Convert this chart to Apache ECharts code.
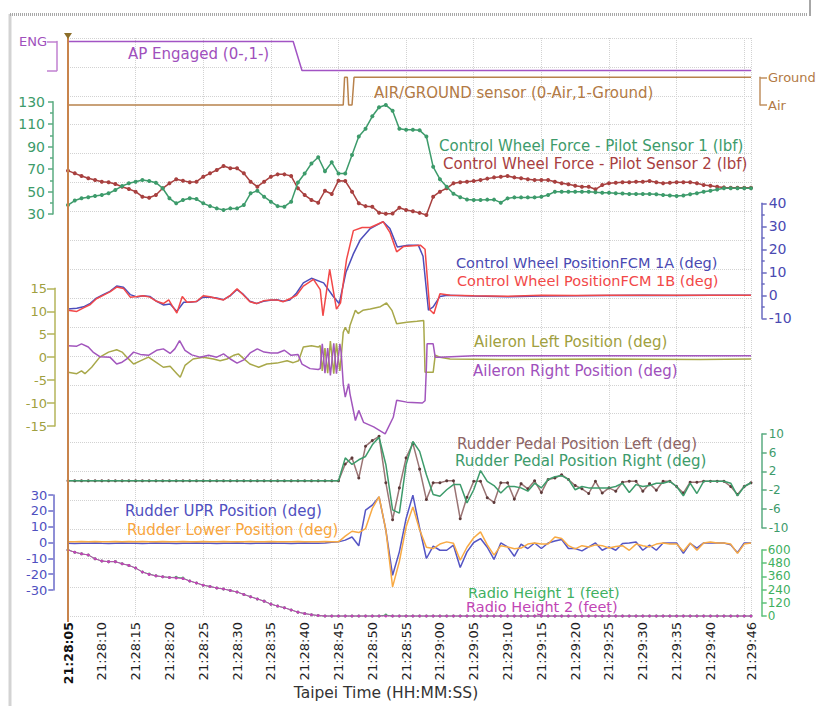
<!DOCTYPE html>
<html>
<head>
<meta charset="utf-8">
<script src="https://cdn.jsdelivr.net/npm/echarts@6/dist/echarts.min.js"></script>
<style>
  html, body { margin: 0; padding: 0; background: #fff; }
  #chart { width: 818px; height: 706px; }
</style>
</head>
<body>
<div id="chart"></div>
<script>
// ---- time axis (seconds after 21:28:05) ----
const timeTicks  = [0, 5, 10, 15, 20, 25, 30, 35, 40, 45, 50, 55, 60, 65, 70, 75, 80, 85, 90, 95, 100, 101];
const timeLabels = ['21:28:05', '21:28:10', '21:28:15', '21:28:20', '21:28:25', '21:28:30', '21:28:35',
                    '21:28:40', '21:28:45', '21:28:50', '21:28:55', '21:29:00', '21:29:05', '21:29:10',
                    '21:29:15', '21:29:20', '21:29:25', '21:29:30', '21:29:35', '21:29:40', '21:29:45', '21:29:46'];

// ---- discrete parameters ----
const apTime  = [0, 33.3, 34.6, 101];
const apValue = [1, 1, 0, 0];
const apLabels = ['', 'ENG'];

const airGroundTime  = [0, 40.7, 40.9, 41.3, 41.5, 42.0, 42.3, 101];
const airGroundValue = [0, 0, 1, 1, 0, 0, 1, 1];
const airGroundLabels = ['Air', 'Ground'];

// ---- control wheel force, 1 sample per second (lbf) ----
const forceTicks = [30, 50, 70, 90, 110, 130];
const forceMinorTicks = [40, 60, 80, 100, 120];
const forceSensor1 = [
  38, 42, 44, 45, 46, 46.9, 48.4, 51.4, 54.9, 57.3,
  58.8, 60.3, 59.4, 57.9, 52.9, 44, 39.5, 42.5, 44, 43.3,
  39.5, 37, 35, 33.6, 35, 35, 38, 48.4, 50.7, 45.4,
  41, 37, 36.5, 41, 58, 66, 75, 80.5, 68, 76,
  66, 66, 82.5, 99, 106, 117, 125, 127, 122, 106,
  105, 105, 104.5, 99, 72, 61, 54.3, 48, 45, 43,
  42.5, 42.5, 42.8, 42.8, 40.1, 43.9, 44.8, 44.8, 44.8, 44.8,
  45.4, 46.9, 49.9, 49.9, 49.9, 49.9, 49.9, 49.9, 49.3, 49,
  49, 48.5, 48.2, 47.8, 47.8, 47.8, 47.8, 47.5, 46.9, 46.5,
  46, 46.5, 47.5, 48.4, 49.9, 50.7, 51.9, 52.9, 52.9, 52.9,
  52.9, 52.9
];
const forceSensor2 = [
  68.6, 66.2, 63.8, 61.8, 60.3, 58.8, 58.2, 56.7, 54.3, 52.3,
  49.9, 45.4, 44.5, 46.9, 52.9, 57.3, 60.9, 59.7, 58.2, 58.8,
  63.2, 66.2, 69.2, 72.7, 70.7, 70.7, 66.2, 58.8, 54.3, 58.8,
  63.2, 65.3, 65.3, 63.8, 52.9, 46.9, 42.5, 40.1, 50.7, 47.8,
  59.7, 59.4, 49.9, 39.5, 37, 36.5, 31.2, 30.3, 30.5, 35.6,
  33.5, 32.5, 31, 29.1, 45.4, 49.9, 52.9, 57.3, 58.2, 58.8,
  59.4, 60.3, 61.5, 62.6, 63.2, 63.8, 62.6, 61.8, 60.9, 60.3,
  60.3, 60.3, 58.8, 57.3, 56.4, 55.2, 54.3, 54.3, 52, 55.8,
  57.3, 57.9, 58.2, 58.2, 58.8, 58.8, 59.4, 58.2, 57.3, 57.9,
  58.2, 58.2, 58.2, 57.3, 55.8, 55.2, 54.3, 53.7, 53.4, 53.4,
  53.4, 53.4
];

// ---- control wheel position (deg) ----
const wheelTicks = [-10, 0, 10, 20, 30, 40];
const wheelMinorTicks = [-5, 5, 15, 25, 35];
const wheelTimeA = [0, 1.3, 2.3, 3.3, 4.2, 5.2, 6.2, 7.2, 8.2, 9.2, 10.2, 11.1, 12.1, 13.1, 14.1, 15.1, 16.1,
  17.1, 18.0, 19.0, 20.0, 21.0, 22.0, 23.0, 24.0, 25.0, 25.9, 26.9, 27.9, 28.9, 29.9, 30.9, 31.8, 32.8,
  33.8, 34.8, 36.0, 37.8, 39.2, 40.1, 41.1, 42.2, 43.2, 44.7, 46.6, 47.6, 48.7, 50.3, 51.8, 52.5, 53.3,
  54.0, 55.0, 56.1, 60, 65, 70, 75, 80, 85, 90, 95, 101];
const wheelFcm1A = [-6.0, -5.6, -5.0, -3.5, -1.2, 0.3, 1.7, 4.0, 3.5, 0.3, -0.7, -0.2, -0.5, -2.6, -4.2, -3.8, -7.0,
  -3.0, -3.0, -2.7, -0.7, -0.9, -1.2, -1.9, -0.2, 2.5, 0.5, -2.6, -3.6, -2.6, -2.2, -1.9, -2.6, -2.0,
  1.0, 5.4, 7.4, 5.4, -0.4, -3.6, 10, 18, 24, 29, 32, 29, 21, 21.8, 21.8, 17, -6.5,
  -5, -0.5, 0, -0.3, -0.6, -0.3, -0.2, -0.1, 0, -0.1, 0, 0];
const wheelTimeB = [0, 1.3, 2.3, 3.3, 4.2, 5.2, 6.2, 7.2, 8.2, 9.2, 10.2, 11.1, 12.1, 13.1, 14.1, 14.9, 15.4,
  16.1, 16.9, 17.6, 19.0, 20.0, 21.0, 22.0, 23.0, 24.0, 25.0, 25.9, 26.9, 27.9, 28.9, 29.9, 30.9, 31.8,
  32.8, 33.8, 34.8, 36.3, 37.3, 37.7, 38.7, 39.7, 40.3, 41.2, 42.2, 43.5, 44.7, 46.6, 47.6, 48.6, 49.6,
  52.1, 52.8, 53.5, 54.1, 55.0, 56.5, 60, 65, 70, 75, 80, 85, 90, 95, 101];
const wheelFcm1B = [-6.5, -7.0, -5.5, -4.0, -1.5, 0, 1.5, 3.6, 3.0, -0.8, -0.5, -0.2, -0.8, -2.6, -3.6, -2.0, -4.5,
  -7.7, -0.5, -3.0, -2.7, -0.2, -0.6, -1.4, -2.0, 0, 2.8, 0.2, -2.8, -3.6, -2.4, -2.0, -2.0, -2.8,
  -1.5, 0, 4.0, 6.9, 2.5, -8.9, 11.3, -6.0, -3.3, 15.7, 28.1, 29.5, 29.5, 32, 27.4, 18.9, 21.2,
  21.8, 20, -6.3, -8, 0.7, 0, -0.2, -0.4, 0, -0.1, 0, 0, 0, 0, 0];

// ---- aileron position (deg) ----
const aileronTicks = [-15, -10, -5, 0, 5, 10, 15];
const aileronLeftTime = [0, 1.3, 2.0, 2.5, 3.5, 4.7, 6.0, 7.2, 8.0, 8.7, 9.7, 10.7, 11.9, 13.1, 14.1, 15.1,
  16.1, 16.6, 17.3, 18.5, 20.0, 21.5, 22.5, 23.5, 24.5, 25.2, 25.9, 26.9, 28.2, 29.4, 30.9, 32.4, 33.3,
  34.1, 34.8, 36.0, 37.0, 37.3, 37.6, 38.0, 38.4, 38.8, 39.3, 39.7, 40.2, 40.4, 40.7, 41.0, 41.5, 41.7,
  42.5, 42.9, 43.6, 44.7, 46.2, 47.1, 47.9, 48.6, 50.1, 51.6, 52.6, 52.8, 54.0, 54.3, 55.0, 56.5,
  63.9, 78.7, 93.5, 101];
const aileronLeft = [-3.3, -3.6, -3.0, -3.6, -2.2, 0, 1.1, 1.6, 1.1, 0, -1.5, -0.8, 0, -1.2, -2.2, -2.0,
  -3.6, -4.4, -1.8, -0.4, 0, -0.4, -0.8, -0.4, 0.4, 0.7, -0.2, -1.5, -2.2, -1.5, -1.3, -0.8, -1.2,
  -0.8, 2.2, 2.5, 2.2, 2.5, -3.0, 2.0, -3.5, 3.5, -3.6, 3.0, -3.0, 0, 5.4, 6.5, 5.1, 6.9,
  10.2, 9.5, 10.2, 10.5, 11.0, 11.8, 10.2, 7.3, 7.6, 7.8, 8.0, -3.3, -3.3, 0.4, 0, -0.4,
  -0.5, -0.4, -0.5, -0.4];
const aileronRightTime = [0, 1.3, 2.0, 3.0, 3.7, 4.7, 6.2, 7.2, 8.0, 8.7, 9.7, 10.7, 11.9, 13.1, 14.1, 15.1,
  15.8, 16.5, 17.3, 18.3, 19.5, 20.8, 22.0, 23.0, 24.0, 25.0, 26.0, 27.0, 28.0, 29.0, 30.0, 31.0, 32.0,
  33.0, 34.0, 34.6, 35.8, 37.0, 37.3, 37.6, 38.0, 38.4, 38.8, 39.3, 39.7, 40.2, 40.4, 40.7, 41.0, 41.5,
  41.7, 42.5, 43.0, 43.7, 45.2, 46.9, 48.1, 48.6, 50.1, 52.4, 52.8, 53.0, 53.1, 54.0, 54.3, 55,
  60, 70, 80, 90, 101];
const aileronRight = [2.5, 2.4, 2.9, 2.2, 1.1, 0.1, 0, -1.5, -1.1, -0.4, 1.1, 0.6, 0.4, 1.5, 1.8, 0.8,
  1.8, 3.6, 1.5, 0.5, 0, 0.4, 0, 0.7, -0.4, -1.3, -0.6, 1.0, 1.8, 1.1, 0.9, 0.9, 1.5,
  0.4, 0.6, -1.5, -2.5, -2.7, -2.5, 2.9, -3.5, 2.0, -4.0, 3.0, -3.6, 2.9, 1, -5.8, -8.7, -5.8,
  -8.0, -13.8, -11.6, -14.2, -15.2, -16.7, -13.1, -9.4, -9.8, -10.0, -9.5, -2.2, 2.9, 2.9, 0, 0,
  0.3, 0.3, 0.3, 0.3, 0.3];

// ---- rudder pedal position, 1 sample per second (deg) ----
const pedalTicks = [-10, -6, -2, 2, 6, 10];
const pedalLeft = [
  0, 0, 0, 0, 0, 0, 0, 0, 0, 0,
  0, 0, 0, 0, 0, 0, 0, 0, 0, 0,
  0, 0, 0, 0, 0, 0, 0, 0, 0, 0,
  0, 0, 0, 0, 0, 0, 0, 0, 0, 0,
  0, 3.6, 4.9, 0.6, 7.4, 8.6, 9.5, -0.4, -8.3, -1.5,
  4.9, 8.0, 2.5, -4.0, -0.4, -0.4, 0, 0, -8.1, -3.5,
  -0.1, -0.1, -3.6, -4.6, -0.4, -0.4, -3.9, -0.6, -1.7, 0,
  -2.5, 0.3, 0.6, 1.3, 0.3, -1.0, -1.7, -2.7, -0.1, -2.6,
  -1.5, -2.2, -0.3, -0.1, -0.1, -2.2, -0.6, -2.0, -0.1, -0.1,
  -1.2, -2.6, -0.3, -0.3, -0.1, -0.1, -0.1, -0.1, -1.2, -2.9,
  -1.2, -0.4
];
const pedalRight = [
  0, 0, 0, 0, 0, 0, 0, 0, 0, 0,
  0, 0, 0, 0, 0, 0, 0, 0, 0, 0,
  0, 0, 0, 0, 0, 0, 0, 0, 0, 0,
  0, 0, 0, 0, 0, 0, 0, 0, 0, 0,
  0, 4.9, 3.5, 4.5, 5.2, 7.7, 9.3, 3.5, -6.2, -6.9,
  3.5, 8.4, 6.3, 1.3, -2.9, -3.3, -1.9, -0.8, -0.8, -4.7,
  -1.9, 2.2, -0.1, -1.0, -2.6, -1.2, -1.2, -1.5, -2.2, -0.5,
  -1.5, 0.3, 0.9, 1.1, 0.3, -1.9, -1.2, -1.5, -1.5, -1.5,
  -1.5, -1.2, -0.5, -2.5, -0.8, -1.2, -1.0, -0.5, -0.5, -0.1,
  -1.2, -3.2, -0.5, -2.7, -0.1, -0.1, -0.1, -0.1, -0.5, -3.2,
  -1.2, -0.4
];

// ---- rudder surface position, 1 sample per second (deg) ----
const rudderTicks = [-30, -20, -10, 0, 10, 20, 30];
const rudderUpper = [
  -0.5, -0.6, -0.4, -0.5, -0.3, -0.5, -0.6, -0.4, -0.3, -0.5,
  -0.4, -0.6, -0.5, -0.3, -0.4, -0.5, -0.6, -0.4, -0.5, -0.3,
  -0.5, -0.4, -0.6, -0.5, -0.4, -0.3, -0.5, -0.6, -0.4, -0.5,
  -0.3, -0.4, -0.5, -0.6, -0.4, -0.3, -0.5, -0.4, -0.3, 0.2,
  0.4, 1.5, 3.5, -2.1, 20.4, 23.6, 28.8, 8.0, -20.7, -5.9,
  15.2, 29.9, 9.0, -10.1, -2.3, -4.9, -4.9, -1.7, -15.8, -5.9,
  0, 2.5, -3.0, -10.7, -0.3, -2.8, -8.7, -1.1, -3.8, -0.3,
  -3.8, -0.3, 1.0, 1.9, -3.8, -3.8, -5.3, -2.8, -0.3, -4.9,
  -2.8, -4.9, -0.6, -0.3, 0.3, -4.9, -1.7, -4.9, -0.3, -0.3,
  -0.3, -6.9, -0.6, -3.5, -0.3, -0.3, -0.3, -0.3, -1.5, -6.5,
  -0.3, -0.3
];
const rudderLower = [
  0.5, 0.4, 0.6, 0.5, 0.7, 0.5, 0.4, 0.6, 0.5, 0.6,
  0.5, 0.7, 0.5, 0.4, 0.6, 0.5, 0.5, 0.6, 0.4, 0.5,
  0.6, 0.5, 0.4, 0.6, 0.5, 0.5, 0.4, 0.6, 0.5, 0.5,
  0.6, 0.4, 0.5, 0.5, 0.6, 0.5, 0.4, 0.5, 0.6, 0.5,
  0.4, 4.0, 7.1, 6.3, 8.8, 21.5, 29.0, 8.0, -28.0, -12.0,
  9.9, 22.5, 8.0, -3.0, -3.8, -1.0, 0.4, -0.5, -11.2, -3.0,
  3.0, 6.7, -1.5, -8.0, -2.0, -2.8, -4.0, -3.5, -1.0, -0.3,
  -1.0, -1.0, 3.5, 2.5, -2.0, -4.0, -2.0, -2.8, -1.5, -2.0,
  -3.5, -2.5, -2.0, -4.9, -1.0, -2.0, -2.8, -1.0, -0.3, -1.0,
  -1.0, -5.5, -0.3, -4.9, -0.3, 0.3, -0.3, -0.3, -1.0, -6.9,
  -1.0, -0.3
];

// ---- radio height, 1 sample per second (feet) ----
const radioTicks = [0, 120, 240, 360, 480, 600];
const radioHeight1 = [
  600, 580, 565, 555, 520, 500, 494, 494, 475, 460,
  436, 400, 382, 365, 357, 350, 352, 345, 318, 300,
  280, 268, 255, 245, 232, 218, 196, 175, 155, 135,
  108, 90, 75, 55, 35, 22, 12, 4, 0, 0,
  0, 0, 0, 0, 0, 0, 0, 8, 0, 0,
  0, 0, 0, 0, 0, 0, 0, 0, 0, 0,
  0, 0, 0, 0, 0, 0, 0, 0, 0, 0,
  0, 0, 0, 0, 0, 0, 0, 0, 0, 0,
  0, 0, 0, 0, 0, 0, 0, 0, 0, 0,
  0, 0, 0, 0, 0, 0, 0, 0, 0, 0,
  0, 0
];
const radioHeight2 = [
  600, 580, 565, 555, 520, 500, 494, 494, 475, 460,
  436, 400, 378, 365, 357, 350, 346, 340, 318, 300,
  280, 268, 255, 245, 232, 218, 196, 175, 155, 135,
  108, 90, 75, 55, 35, 22, 12, 4, 0, 0,
  0, 0, 0, 0, 0, 0, 0, 0, 0, 0,
  0, 0, 0, 0, 0, 0, 0, 0, 0, 0,
  0, 0, 0, 0, 0, 0, 0, 0, 0, 0,
  0, 0, 0, 0, 0, 0, 0, 0, 0, 0,
  0, 0, 0, 0, 0, 0, 0, 0, 0, 0,
  0, 0, 0, 0, 0, 0, 0, 0, 0, 0,
  0, 0
];

// ---------------------------------------------------------------
const FONT = 'DejaVu Sans, Verdana, sans-serif';
const T_MAX = 101;
const PLOT_LEFT = 68, PLOT_WIDTH = 683;

const pairs = (ts, vs) => ts.map((t, i) => [t, vs[i]]);
const perSecond = vs => vs.map((v, i) => [i, v]);

const grids = [], xAxes = [], yAxes = [], series = [];

function addGrid(top, height) {
  grids.push({ left: PLOT_LEFT, width: PLOT_WIDTH, top, height,
               containLabel: false, outerBoundsMode: 'none', show: false });
  return grids.length - 1;
}

// background grid: dotted grid lines and the time axis
const bg = addGrid(38, 578);
const gridLine = { show: true, lineStyle: { color: '#d2d2d2', type: 'dotted', width: 1 } };
xAxes.push({
  gridIndex: bg, type: 'value', min: 0, max: T_MAX, position: 'bottom',
  axisLine: { show: false, onZero: false }, axisTick: { show: false }, splitLine: { show: false },
  axisLabel: {
    show: true, rotate: 90, margin: 6, customValues: timeTicks,
    showMinLabel: true, showMaxLabel: true, hideOverlap: false,
    color: '#1e1e1e', fontFamily: FONT, fontSize: 13,
    formatter: v => {
      const i = timeTicks.indexOf(v);
      const s = i >= 0 ? timeLabels[i] : '';
      return i === 0 ? '{b|' + s + '}' : s;
    },
    rich: { b: { fontWeight: 'bold', color: '#111', fontFamily: FONT, fontSize: 12.5 } }
  }
});
xAxes.push({
  gridIndex: bg, type: 'value', min: 0, max: T_MAX, position: 'bottom',
  axisLine: { show: false, onZero: false }, axisTick: { show: false }, axisLabel: { show: false },
  splitLine: gridLine, interval: 10
});
yAxes.push({
  gridIndex: bg, type: 'value', min: 0, max: 20, interval: 1,
  axisLine: { show: false, onZero: false }, axisTick: { show: false }, axisLabel: { show: false },
  splitLine: gridLine
});

// one stacked panel per parameter group, each with its own value axis
function addPanel(p) {
  const g = addGrid(p.top, p.height);
  xAxes.push({ gridIndex: g, type: 'value', min: 0, max: T_MAX, show: false,
               axisLine: { onZero: false } });
  const xi = xAxes.length - 1;
  yAxes.push({
    gridIndex: g, type: 'value', position: p.side, offset: p.offset,
    min: p.min, max: p.max,
    splitLine: { show: false },
    axisLine: { show: true, onZero: false, lineStyle: { color: p.axisColor, width: 1.5 } },
    axisTick: { show: true, length: p.tick, customValues: p.ticks,
                lineStyle: { color: p.axisColor, width: 1.5 } },
    axisLabel: { show: true, margin: p.margin, customValues: p.ticks,
                 showMinLabel: true, showMaxLabel: true, hideOverlap: false,
                 color: p.labelColor, fontFamily: FONT, fontSize: p.fontSize,
                 formatter: p.formatter || (v => String(v)) }
  });
  const yi = yAxes.length - 1;
  if (p.minorTicks) {
    yAxes.push({
      gridIndex: g, type: 'value', position: p.side, offset: p.offset,
      min: p.min, max: p.max,
      splitLine: { show: false }, axisLine: { show: false, onZero: false }, axisLabel: { show: false },
      axisTick: { show: true, length: 3, customValues: p.minorTicks,
                  lineStyle: { color: p.axisColor, width: 1.5 } }
    });
  }
  return { xi, yi };
}

function addLine(ax, name, data, color, opts = {}) {
  series.push({
    type: 'line', name, xAxisIndex: ax.xi, yAxisIndex: ax.yi, data,
    clip: false, animation: false, silent: true, smooth: false,
    showSymbol: !!opts.symbol, symbol: 'circle', symbolSize: opts.symbol || 0,
    itemStyle: { color: opts.markerColor || color },
    lineStyle: { color, width: opts.width || 1.5 },
    z: opts.z || 2
  });
}

const apAxis = addPanel({ top: 41.5, height: 29, side: 'left', offset: 11, min: 0, max: 1,
  ticks: [0, 1], tick: 10, margin: 10, fontSize: 13,
  axisColor: '#c080d0', labelColor: '#a050bc', formatter: v => apLabels[v] });
addLine(apAxis, 'AP Engaged', pairs(apTime, apValue), '#a254c4');

const agAxis = addPanel({ top: 77.3, height: 27.7, side: 'right', offset: 9, min: 0, max: 1,
  ticks: [0, 1], tick: 7, margin: 8, fontSize: 13,
  axisColor: '#c09060', labelColor: '#b27a45', formatter: v => airGroundLabels[v] });
addLine(agAxis, 'AIR/GROUND sensor', pairs(airGroundTime, airGroundValue), '#b8824c');

const forceAxis = addPanel({ top: 101.7, height: 112.3, side: 'left', offset: 15, min: 30, max: 130,
  ticks: forceTicks, minorTicks: forceMinorTicks, tick: 5, margin: 8, fontSize: 14,
  axisColor: '#5aab80', labelColor: '#3d9b6b' });
addLine(forceAxis, 'Control Wheel Force - Pilot Sensor 2', perSecond(forceSensor2), '#a8403f', { symbol: 4 });
addLine(forceAxis, 'Control Wheel Force - Pilot Sensor 1', perSecond(forceSensor1), '#3d9b6b', { symbol: 4, z: 3 });

const wheelAxis = addPanel({ top: 203.3, height: 115, side: 'right', offset: 10.7, min: -10, max: 40,
  ticks: wheelTicks, minorTicks: wheelMinorTicks, tick: 5, margin: 7, fontSize: 14,
  axisColor: '#6a6ac0', labelColor: '#4a4ab2' });
addLine(wheelAxis, 'Control Wheel PositionFCM 1A', pairs(wheelTimeA, wheelFcm1A), '#4d4dbb');
addLine(wheelAxis, 'Control Wheel PositionFCM 1B', pairs(wheelTimeB, wheelFcm1B), '#f24848', { z: 3 });

const ailAxis = addPanel({ top: 288.3, height: 137.7, side: 'left', offset: 13, min: -15, max: 15,
  ticks: aileronTicks, tick: 8, margin: 8, fontSize: 13,
  axisColor: '#b4b45a', labelColor: '#a0a040' });
addLine(ailAxis, 'Aileron Left Position', pairs(aileronLeftTime, aileronLeft), '#a8a84a');
addLine(ailAxis, 'Aileron Right Position', pairs(aileronRightTime, aileronRight), '#a256bd', { z: 3 });

const pedalAxis = addPanel({ top: 434, height: 93.7, side: 'right', offset: 10.7, min: -10, max: 10,
  ticks: pedalTicks, tick: 5, margin: 7, fontSize: 12,
  axisColor: '#5aab80', labelColor: '#3d9b6b' });
addLine(pedalAxis, 'Rudder Pedal Position Left', perSecond(pedalLeft), '#9a7474',
  { symbol: 3, markerColor: '#5e3a3a' });
addLine(pedalAxis, 'Rudder Pedal Position Right', perSecond(pedalRight), '#3d9b6b', { z: 3 });

const rudderAxis = addPanel({ top: 495, height: 95, side: 'left', offset: 14.7, min: -30, max: 30,
  ticks: rudderTicks, tick: 5, margin: 6, fontSize: 13,
  axisColor: '#6a6ac8', labelColor: '#5050c0' });
addLine(rudderAxis, 'Rudder UPR Position', perSecond(rudderUpper), '#5555c4');
addLine(rudderAxis, 'Rudder Lower Position', perSecond(rudderLower), '#f8aa44');

const radioAxis = addPanel({ top: 550, height: 66, side: 'right', offset: 10.7, min: 0, max: 600,
  ticks: radioTicks, tick: 5, margin: 6, fontSize: 12,
  axisColor: '#5ec07a', labelColor: '#3fb05f' });
addLine(radioAxis, 'Radio Height 1', perSecond(radioHeight1), '#3fb05f', { symbol: 3, width: 1 });
addLine(radioAxis, 'Radio Height 2', perSecond(radioHeight2), '#c145b5', { symbol: 3, width: 1, z: 3 });

// in-plot parameter captions
const captions = [
  { text: 'AP Engaged (0-,1-)', color: '#a050bc', x: 128, y: 54.3 },
  { text: 'AIR/GROUND sensor (0-Air,1-Ground)', color: '#b27a45', x: 374, y: 92.7 },
  { text: 'Control Wheel Force - Pilot Sensor 1 (lbf)', color: '#3d9b6b', x: 439, y: 146 },
  { text: 'Control Wheel Force - Pilot Sensor 2 (lbf)', color: '#a8403f', x: 443, y: 164.3 },
  { text: 'Control Wheel PositionFCM 1A (deg)', color: '#4a4ab2', x: 456, y: 263, size: 14.5 },
  { text: 'Control Wheel PositionFCM 1B (deg)', color: '#f24848', x: 457, y: 280.5, size: 14.5 },
  { text: 'Aileron Left Position (deg)', color: '#a0a040', x: 474, y: 341.7 },
  { text: 'Aileron Right Position (deg)', color: '#a050bc', x: 473, y: 371 },
  { text: 'Rudder Pedal Position Left (deg)', color: '#8e6565', x: 457, y: 443.5 },
  { text: 'Rudder Pedal Position Right (deg)', color: '#3d9b6b', x: 455, y: 461 },
  { text: 'Rudder UPR Position (deg)', color: '#5050c0', x: 125, y: 510.7 },
  { text: 'Rudder Lower Position (deg)', color: '#f8a63e', x: 127, y: 530 },
  { text: 'Radio Height 1 (feet)', color: '#3fb05f', x: 468, y: 592.5, size: 14.5 },
  { text: 'Radio Height 2 (feet)', color: '#c145b5', x: 466, y: 607, size: 14.5 }
];

const chart = echarts.init(document.getElementById('chart'), null, { renderer: 'svg' });
chart.setOption({
  backgroundColor: '#ffffff',
  animation: false,
  grid: grids, xAxis: xAxes, yAxis: yAxes, series
});

// time cursor at the first sample, plus captions and page frame
const cursorX = chart.convertToPixel({ xAxisIndex: 0 }, 0);
const frame = { stroke: '#a8a8a8', lineWidth: 3, lineDash: [1, 1] };
const graphics = [
  { type: 'line', silent: true, z: 0, shape: { x1: 10, y1: 14.5, x2: 10, y2: 706 }, style: frame },
  { type: 'line', silent: true, z: 0, shape: { x1: 10, y1: 14.5, x2: 808, y2: 14.5 }, style: frame },
  { type: 'line', silent: true, z: 0, shape: { x1: 810, y1: 0, x2: 810, y2: 16 },
    style: { stroke: '#8a8a8a', lineWidth: 1.5 } },
  { type: 'line', silent: true, z: 10,
    shape: { x1: cursorX, y1: 36, x2: cursorX, y2: 622 },
    style: { stroke: '#c8844c', lineWidth: 2 } },
  { type: 'polygon', silent: true, z: 11,
    shape: { points: [[cursorX - 4, 33], [cursorX + 4, 33], [cursorX, 39]] },
    style: { fill: '#8c6e2a' } },
  { type: 'text', silent: true, z: 10,
    style: { text: 'Taipei Time (HH:MM:SS)', x: 386, y: 693, align: 'center', verticalAlign: 'middle',
             fill: '#333', font: '15.5px ' + FONT } }
];
captions.forEach(c => graphics.push({
  type: 'text', silent: true, z: 10,
  style: { text: c.text, x: c.x, y: c.y, align: 'left', verticalAlign: 'middle',
           fill: c.color, font: (c.size || 15) + 'px ' + FONT }
}));
chart.setOption({ graphic: graphics });
</script>
</body>
</html>
